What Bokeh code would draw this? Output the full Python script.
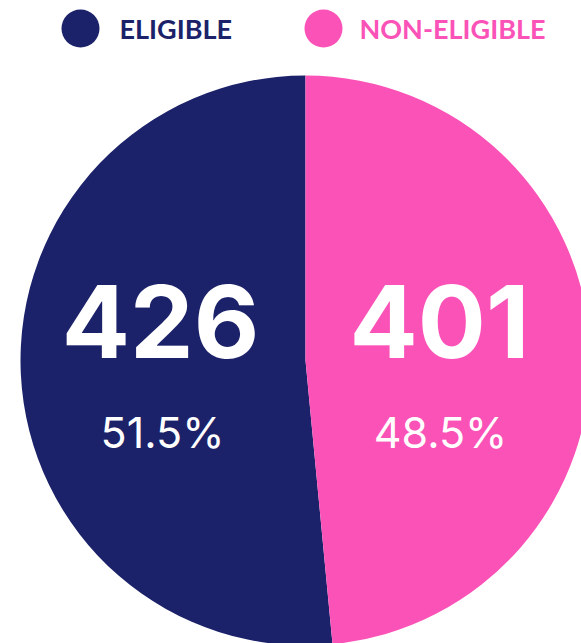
import math
from bokeh.plotting import figure
from bokeh.models import Range1d, ColumnDataSource
from bokeh.core.properties import value
from bokeh.embed import file_html
from bokeh.resources import INLINE

categories = ["ELIGIBLE", "NON-ELIGIBLE"]
counts = [426, 401]
percents = ["51.5%", "48.5%"]
colors = ["#1C2269", "#FB52B8"]

W, H = 581, 643
p = figure(width=W, height=H, x_range=Range1d(0, W), y_range=Range1d(0, H),
           output_backend="svg", toolbar_location=None, min_border=0,
           background_fill_color="white", border_fill_color="white")
p.axis.visible = False
p.grid.visible = False
p.outline_line_color = None

total = sum(counts)
starts, ends = [], []
a = math.pi / 2
for c in counts:
    starts.append(a)
    a += 2 * math.pi * c / total
    ends.append(a)

cx, cy, r = 305, H - 360, 285
src = ColumnDataSource(dict(start=starts, end=ends, color=colors))
p.wedge(x=cx, y=cy, radius=r, start_angle="start", end_angle="end",
        fill_color="color", line_color=None, source=src)

# big numbers
p.text(x=[160, 439], y=[H - 321, H - 321], text=[str(c) for c in counts],
       text_font=value("Inter"), text_font_style="bold", text_font_size="101px",
       text_color="white", text_align="center", text_baseline="middle")
# percentages
p.text(x=[162, 440], y=[H - 431, H - 431], text=percents,
       text_font=value("Inter"), text_font_size="43px",
       text_color="white", text_align="center", text_baseline="middle")

# legend
p.scatter(x=[80, 323], y=[H - 28, H - 28], size=38, marker="circle",
          fill_color=colors, line_color=None)
p.text(x=[119, 359], y=[H - 28, H - 28], text=categories,
       text_font=value("Lato"), text_font_style="bold", text_font_size="27px",
       text_color=colors, text_align="left", text_baseline="middle")

open("out.html", "w").write(file_html(p, INLINE))
